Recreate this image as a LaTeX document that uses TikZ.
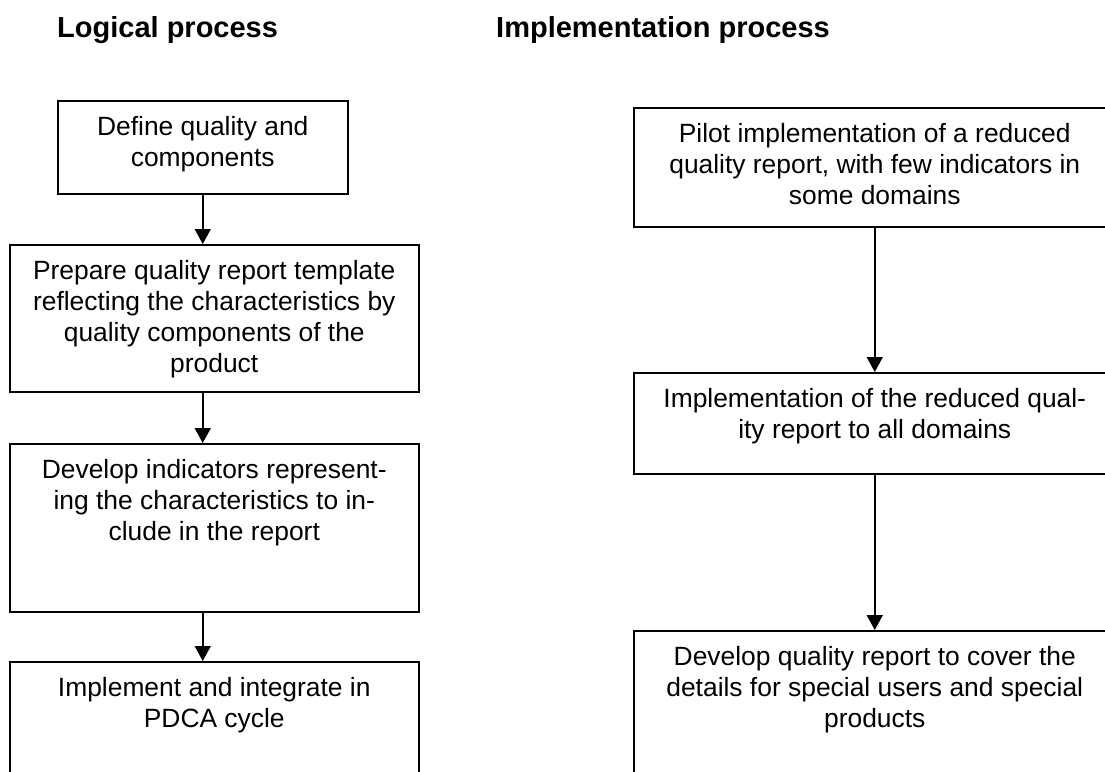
\documentclass[tikz,border=0pt]{standalone}
\usepackage{fontspec}
\setmainfont{Liberation Sans}
\usetikzlibrary{arrows.meta}
\newcommand\bxtext[3]{\parbox[t][#2pt][t]{#1pt}{\vspace*{13.3pt}\centering\strut #3}}
\tikzset{
  pbox/.style={draw, line width=1.5pt, inner sep=0pt, anchor=north west,
    font=\fontsize{26.4}{31}\selectfont},
  ttl/.style={inner sep=0pt, anchor=base west, font=\fontsize{29}{34}\selectfont\bfseries},
  arr/.style={line width=1.5pt, -{Triangle[width=16pt,length=15pt]}}
}
\begin{document}
\begin{tikzpicture}[x=1pt,y=-1pt]
\clip (0,0) rectangle (1105,771);
\fill[white] (0,0) rectangle (1105,771);
\node[ttl] (t1) at (57,37) {Logical process};
\node[ttl] (t2) at (496,37) {Implementation process};
\node[pbox] (b1) at (57,100) {\bxtext{290}{93}{Define quality and\\components}};
\node[pbox] (b2) at (9,244) {\bxtext{409}{147}{Prepare quality report template\\reflecting the characteristics by\\quality components of the\\product}};
\node[pbox] (b3) at (9,443) {\bxtext{409}{168}{Develop indicators represent-\\ing the characteristics to in-\\clude in the report}};
\node[pbox] (b4) at (9,661) {\bxtext{409}{150}{Implement and integrate in\\PDCA cycle}};
\node[pbox] (r1) at (633,107) {\bxtext{482}{119}{Pilot implementation of a reduced\\quality report, with few indicators in\\some domains}};
\node[pbox] (r2) at (633,372) {\bxtext{482}{101}{Implementation of the reduced qual-\\ity report to all domains}};
\node[pbox] (r3) at (633,630) {\bxtext{482}{180}{Develop quality report to cover the\\details for special users and special\\products}};
\draw[arr] (b1.south) -- (b1.south |- b2.north);
\draw[arr] (b1.south |- b2.south) -- (b1.south |- b3.north);
\draw[arr] (b1.south |- b3.south) -- (b1.south |- b4.north);
\draw[arr] (r1.south) -- (r2.north);
\draw[arr] (r2.south) -- (r3.north);
\end{tikzpicture}
\end{document}
